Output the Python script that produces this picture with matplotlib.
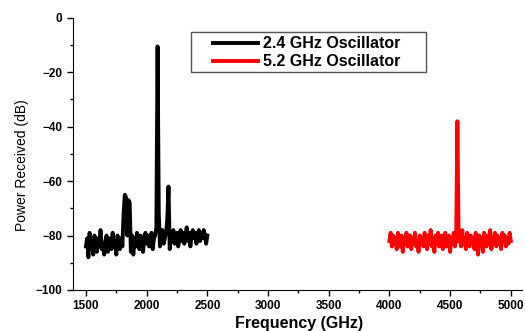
import numpy as np
import matplotlib
matplotlib.use("Agg")
import matplotlib.pyplot as plt
from matplotlib.patches import Rectangle
from matplotlib.ticker import MultipleLocator

plt.rcParams["font.family"] = ["Liberation Sans", "DejaVu Sans"]

# 2.4 GHz oscillator spectrum, 1500-2500 GHz in 10 GHz steps
freq_24 = np.arange(1500, 2501, 10)
power_24 = [
    -84, -81, -88, -79, -85, -82, -87, -80, -83, -86,
    -81, -84, -78, -85, -83, -87, -82, -80, -86, -83,
    -81, -85, -79, -84, -82, -87, -80, -83, -85, -81,
    -84, -72, -65, -66, -80, -67, -68, -86, -80, -87,
    -81, -84, -79, -82, -85, -80, -83, -86, -81, -79,
    -83, -80, -84, -82, -79, -85, -81, -80, -77, -10.5,
    -72, -84, -80, -78, -83, -81, -79, -74, -62, -85,
    -80, -82, -78, -83, -80, -79, -84, -81, -78, -82,
    -79, -83, -80, -77, -82, -79, -84, -80, -78, -81,
    -79, -83, -80, -78, -82, -79, -81, -78, -80, -83,
    -80,
]

# 5.2 GHz oscillator spectrum, 4000-5000 GHz in 10 GHz steps
freq_52 = np.arange(4000, 5001, 10)
power_52 = [
    -82, -79, -84, -80, -83, -81, -85, -79, -82, -84,
    -80, -86, -81, -83, -79, -84, -82, -80, -85, -81,
    -83, -79, -84, -82, -86, -80, -83, -81, -84, -79,
    -82, -85, -80, -83, -78, -84, -81, -86, -80, -83,
    -79, -84, -82, -80, -85, -81, -79, -84, -82, -80,
    -86, -81, -83, -79, -84, -81, -38, -82, -80, -84,
    -78, -83, -81, -85, -79, -82, -84, -80, -83, -81,
    -85, -79, -82, -87, -80, -83, -81, -86, -79, -82,
    -84, -80, -83, -78, -85, -81, -82, -79, -84, -80,
    -83, -81, -85, -79, -82, -80, -84, -81, -83, -79,
    -82,
]

fig = plt.figure(figsize=(5.25, 3.31), dpi=100)
ax = fig.add_axes([0.139, 0.124, 0.855, 0.822])

ax.plot(freq_24, power_24, color="black", lw=2.8, label="2.4 GHz Oscillator")
ax.plot(freq_52, power_52, color="red", lw=2.8, label="5.2 GHz Oscillator")

ax.set_xlim(1393, 5091)
ax.set_ylim(-100, 0)
ax.xaxis.set_major_locator(MultipleLocator(500))
ax.xaxis.set_minor_locator(MultipleLocator(250))
ax.yaxis.set_major_locator(MultipleLocator(20))
ax.yaxis.set_minor_locator(MultipleLocator(10))
ax.tick_params(which="both", direction="out", width=1)
ax.tick_params(which="major", length=4, labelsize=8.5)
ax.tick_params(which="minor", length=2.5)
for lbl in ax.get_xticklabels() + ax.get_yticklabels():
    lbl.set_fontweight("bold")

ax.spines["top"].set_visible(False)
ax.spines["right"].set_visible(False)

ax.set_xlabel("Frequency (GHz)", fontsize=11.5, fontweight="bold")
ax.set_ylabel("Power Received (dB)", fontsize=10)
ax.xaxis.set_label_coords(0.503, -0.095)
ax.yaxis.set_label_coords(-0.098, 0.46)

# legend box drawn separately so its padding matches the original
ax.add_patch(Rectangle((0.263, 0.801), 0.523, 0.148, transform=ax.transAxes,
                       fill=False, edgecolor="#555555", lw=1, zorder=5))
ax.legend(loc="center left", bbox_to_anchor=(0.312, 0.872), frameon=False,
          handlelength=2.8, handletextpad=0.3, borderpad=0, borderaxespad=0,
          labelspacing=0.2, prop={"weight": "bold", "size": 11.5})

fig.savefig("out.png", dpi=100)
